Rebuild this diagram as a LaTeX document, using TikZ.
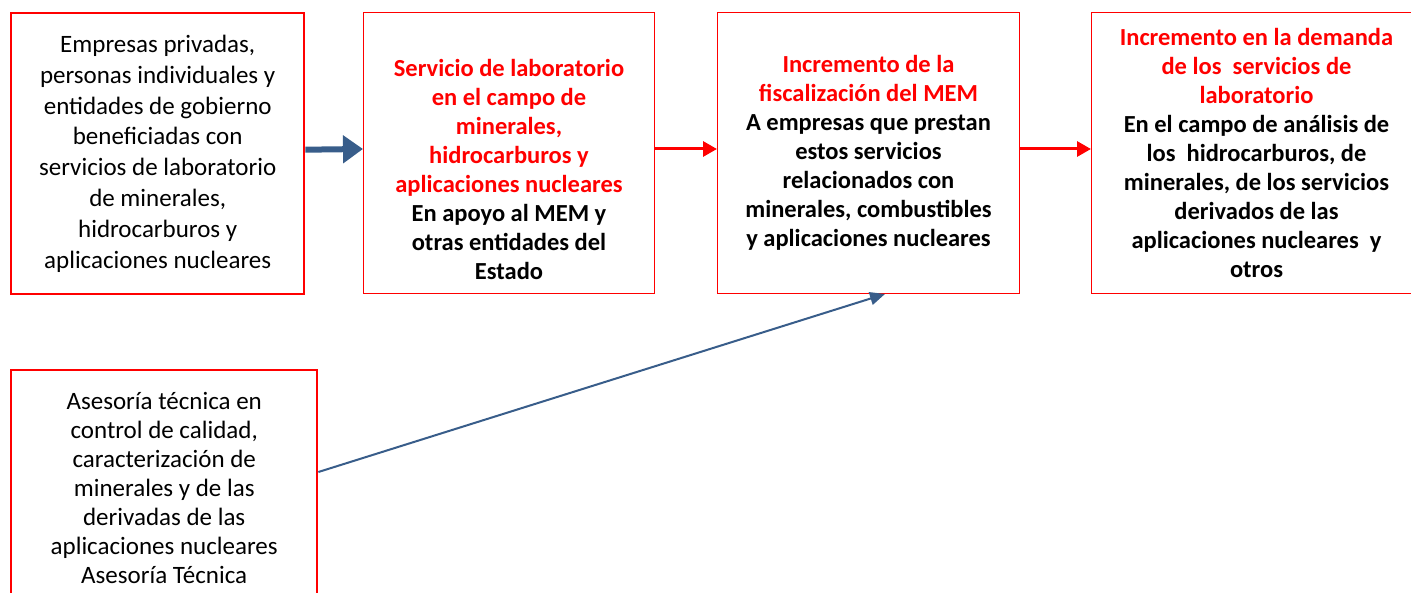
\documentclass[tikz,border=0pt]{standalone}
\usepackage{fontspec}
\setmainfont{Carlito}
\usetikzlibrary{positioning,arrows.meta,calc}
\definecolor{boxred}{RGB}{255,0,0}
\definecolor{arrblue}{RGB}{56,93,138}
\newcommand{\rd}{\color{boxred}}

\begin{document}
\begin{tikzpicture}[
  x=1pt, y=-1pt,
  font=\fontsize{25}{29}\selectfont,
  box/.style={draw=boxred, align=center, inner sep=0pt, anchor=north west},
  src/.style={box, line width=2.4pt},
  res/.style={box, line width=1pt, font=\fontsize{24.5}{29}\selectfont\bfseries,
              minimum height=281pt},
  redarr/.style={-{Triangle[length=14pt,width=15pt]}, boxred, line width=3pt},
  bigarr/.style={-{Triangle[length=20pt,width=27pt]}, arrblue, line width=6pt},
  thinarr/.style={-{Triangle[length=15pt,width=13pt]}, arrblue, line width=2pt},
]
\useasboundingbox (0,0) rectangle (1411,593);

%% ---------- top row ----------
\node[src, minimum width=293pt, minimum height=281pt, font=\fontsize{25}{30.9}\selectfont] (benef) at (10,12)
  {Empresas privadas,\\ personas individuales y\\ entidades de gobierno\\ beneficiadas con\\
   servicios de laboratorio\\ de minerales,\\ hidrocarburos y\\ aplicaciones nucleares};
\node[res, minimum width=291pt] (serv) at (363,12)
  {\rd\rule{0pt}{50pt}Servicio de laboratorio\\ \rd en el campo de\\ \rd minerales,\\ \rd hidrocarburos y\\ \rd aplicaciones nucleares\\
   En apoyo al MEM y\\ otras entidades del\\ Estado};
\node[res, minimum width=302pt] (fisc) at (717,12)
  {\rd Incremento de la\\ \rd fiscalización del MEM\\
   A empresas que prestan\\ estos servicios\\ relacionados con\\ minerales, combustibles\\ y aplicaciones nucleares};
\node[res, minimum width=330pt] (dem) at (1091,12)
  {\rd Incremento en la demanda\\ \rd de los\ \ servicios de\\ \rd laboratorio\\
   En el campo de análisis de\\ los\ \ hidrocarburos, de\\ minerales, de los servicios\\ derivados de las\\ aplicaciones nucleares\ \ y\\ otros};

%% ---------- advisory box (bottom left) ----------
\node[src, minimum width=306pt, minimum height=235pt] (ases) at (10,369)
  {Asesoría técnica en\\ control de calidad,\\ caracterización de\\ minerales y de las\\
   derivadas de las\\ aplicaciones nucleares\\ Asesoría Técnica};

%% ---------- connectors ----------
\draw[bigarr] ($(benef.east)+(0,-4)$) -- ($(serv.west)+(0,-4)$);
\draw[redarr] ($(serv.east)+(0,-4)$) -- ($(fisc.west)+(0,-4)$);
\draw[redarr] ($(fisc.east)+(0,-4)$) -- ($(dem.west)+(0,-4)$);
\coordinate (a0) at ($(ases.north east)+(0,103)$);
\coordinate (a1) at ($(fisc.south west)+(168,0)$);
\draw[thinarr] (a0) -- (a1);

\end{tikzpicture}
\end{document}
